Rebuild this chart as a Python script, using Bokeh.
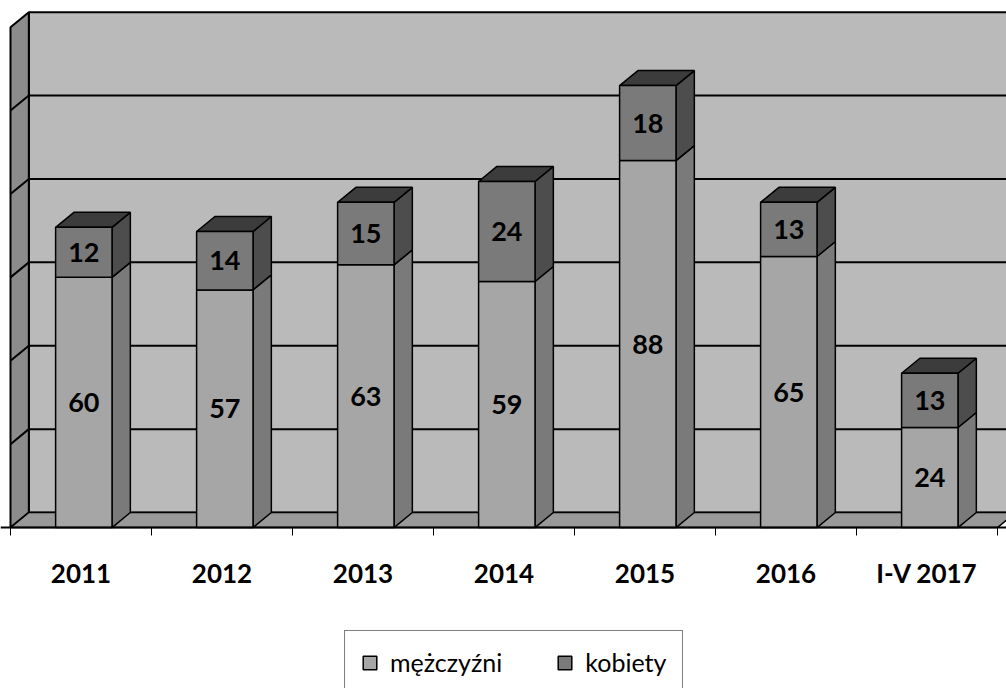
from bokeh.plotting import figure
from bokeh.models import (Range1d, FixedTicker, Legend, LegendItem)
from bokeh.core.properties import value
from bokeh.embed import file_html
from bokeh.resources import INLINE

# ---- data ----
categories = ["2011", "2012", "2013", "2014", "2015", "2016", "I-V 2017"]
men = [60, 57, 63, 59, 88, 65, 24]        # mężczyźni
women = [12, 14, 15, 24, 18, 13, 13]      # kobiety
grid_values = [0, 20, 40, 60, 80, 100, 120]

# ---- geometry (style) ----
DX = 0.13     # depth offset in x (category units)
DY = 3.6      # depth offset in y (value units)
HALF_L, HALF_R = 0.18, 0.22
YMAX = grid_values[-1]
N = len(categories)

p = figure(frame_width=1006, frame_height=688, output_backend="svg", toolbar_location=None,
           x_range=Range1d(-0.0709, 7.064), y_range=Range1d(-38.6, 126.4),
           min_border_left=0, min_border_right=0, min_border_top=0, min_border_bottom=0,
           background_fill_color="white", border_fill_color="white", outline_line_color=None)
p.grid.visible = False
p.yaxis.visible = False

WALL = "#bababa"
SIDEWALL = "#8c8c8c"
FLOOR = "#999999"

# back wall
p.patch([DX, N + DX + 0.3, N + DX + 0.3, DX], [DY, DY, YMAX + DY, YMAX + DY],
        fill_color=WALL, line_color="black", line_width=2)
# left wall
p.patch([0, DX, DX, 0], [0, DY, YMAX + DY, YMAX],
        fill_color=SIDEWALL, line_color="black", line_width=2)
# floor
p.patch([0, N, N + DX, DX], [0, 0, DY, DY],
        fill_color=FLOOR, line_color="black", line_width=1.5)

# gridlines on back wall and left wall
for g in grid_values[1:-1]:
    p.line([DX, N + DX + 0.3], [g + DY, g + DY], line_color="black", line_width=2)
    p.line([0, DX], [g, g + DY], line_color="black", line_width=2)

# ---- bars ----
centers = [i + 0.5 for i in range(N)]
x0 = [c - HALF_L for c in centers]
x1 = [c + HALF_R for c in centers]
tot = [m + w for m, w in zip(men, women)]

MEN_FRONT, MEN_SIDE = "#a6a6a6", "#7a7a7a"
WOM_FRONT, WOM_SIDE, TOP = "#7a7a7a", "#4d4d4d", "#3c3c3c"

men_side_xs = [[b, b + DX, b + DX, b] for b in x1]
men_side_ys = [[0, DY, m + DY, m] for m in men]
wom_side_xs = [[b, b + DX, b + DX, b] for b in x1]
wom_side_ys = [[m, m + DY, t + DY, t] for m, t in zip(men, tot)]
top_xs = [[a, b, b + DX, a + DX] for a, b in zip(x0, x1)]
top_ys = [[t, t, t + DY, t + DY] for t in tot]

p.patches(men_side_xs, men_side_ys, fill_color=MEN_SIDE, line_color="black", line_width=1.5)
p.patches(wom_side_xs, wom_side_ys, fill_color=WOM_SIDE, line_color="black", line_width=1.5)
p.patches(top_xs, top_ys, fill_color=TOP, line_color="black", line_width=1.5)
r_men = p.quad(left=x0, right=x1, bottom=[0] * N, top=men,
               fill_color=MEN_FRONT, line_color="black", line_width=1.5)
r_wom = p.quad(left=x0, right=x1, bottom=men, top=tot,
               fill_color=WOM_FRONT, line_color="black", line_width=1.5)

# value labels
lab_x = [(a + b) / 2 for a, b in zip(x0, x1)]
p.text(x=lab_x, y=[m / 2 for m in men], text=[str(v) for v in men],
       text_align="center", text_baseline="middle", text_font=value("Lato"),
       text_font_style="bold", text_font_size="27px", text_color="black")
p.text(x=lab_x, y=[m + w / 2 for m, w in zip(men, women)], text=[str(v) for v in women],
       text_align="center", text_baseline="middle", text_font=value("Lato"),
       text_font_style="bold", text_font_size="27px", text_color="black")

# ---- x axis (at value 0 inside the frame) ----
ax = p.xaxis[0]
ax.fixed_location = 0
ax.ticker = FixedTicker(ticks=centers, minor_ticks=list(range(N + 1)))
ax.major_label_overrides = {c: lab for c, lab in zip(centers, categories)}
ax.major_tick_out = 0
ax.major_tick_in = 0
ax.minor_tick_out = 8
ax.minor_tick_in = 0
ax.minor_tick_line_color = "black"
ax.axis_line_color = "black"
ax.axis_line_width = 2
ax.major_label_standoff = 21
ax.major_label_text_font = "Lato"
ax.major_label_text_font_style = "bold"
ax.major_label_text_font_size = "26px"
ax.major_label_text_color = "black"

# ---- legend ----
legend = Legend(items=[LegendItem(label="mężczyźni", renderers=[r_men]),
                       LegendItem(label="kobiety", renderers=[r_wom])],
                orientation="horizontal", location=(344, -6),
                label_text_font="Lato", label_text_font_size="25px",
                label_text_color="black", glyph_width=17, glyph_height=17,
                label_standoff=12, spacing=54, padding=16, margin=0,
                border_line_color="black", border_line_width=1.5,
                background_fill_color="white")
p.add_layout(legend)

open("out.html", "w").write(file_html(p, INLINE))
